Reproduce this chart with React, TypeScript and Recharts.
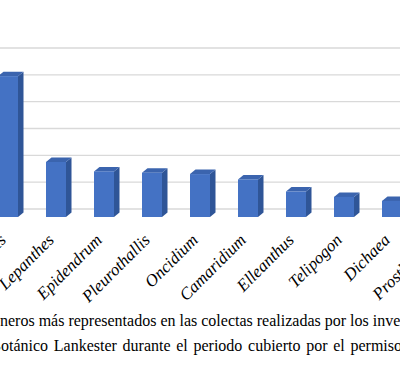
import { BarChart, Bar, XAxis, YAxis, CartesianGrid } from "recharts"

// géneros y número de registros
const generos = [
  "Stelis",
  "Lepanthes",
  "Epidendrum",
  "Pleurothallis",
  "Oncidium",
  "Camaridium",
  "Elleanthus",
  "Telipogon",
  "Dichaea",
  "Prosthechea",
]
const registros = [105, 41, 34, 33, 32, 28, 19, 15, 12, 10]
const yTicks = [0, 20, 40, 60, 80, 100, 120]

const chartData = generos.map((g, i) => ({ genero: g, registros: registros[i] }))

const SERIF = "Liberation Serif"
const FRONT = 8 // desplazamiento de la cara frontal respecto a la pared del fondo
const DX = 5.5
const DY = 4.5

function Bar3D(props: any) {
  const { x, y, width, height } = props
  const fy = y + FRONT
  const fb = fy + height
  return (
    <g>
      <polygon
        points={`${x + width},${fy} ${x + width + DX},${fy - DY} ${x + width + DX},${fb - DY} ${x + width},${fb}`}
        fill="#2f5597"
      />
      <polygon
        points={`${x},${fy} ${x + DX},${fy - DY} ${x + width + DX},${fy - DY} ${x + width},${fy}`}
        fill="#3b64ae"
      />
      <rect x={x} y={fy} width={width} height={height} fill="#4472c4" />
    </g>
  )
}

function GeneroTick(props: any) {
  const { x, y, payload } = props
  const tx = x - 1
  const ty = y + 24
  return (
    <text
      x={tx}
      y={ty}
      transform={`rotate(-45 ${tx} ${ty})`}
      textAnchor="end"
      style={{ fontFamily: SERIF, fontStyle: "italic", fontSize: 17 }}
      fill="#000"
    >
      {payload.value}
    </text>
  )
}

const captionStyle: React.CSSProperties = {
  position: "absolute",
  left: 0,
  whiteSpace: "nowrap",
  fontFamily: SERIF,
  fontSize: 16,
  color: "#000",
}

export default function App() {
  return (
    <div
      style={{
        position: "fixed",
        left: 0,
        top: 0,
        width: 400,
        height: 391,
        overflow: "hidden",
        background: "#fff",
      }}
    >
      <div style={{ position: "absolute", left: -70, top: 0 }}>
        <BarChart
          width={560}
          height={391}
          data={chartData}
          barSize={20}
          margin={{ top: 48, right: 26, left: 4, bottom: 0 }}
        >
          <CartesianGrid vertical={false} stroke="#d9d9d9" strokeWidth={1.4} />
          <XAxis
            dataKey="genero"
            axisLine={false}
            tickLine={false}
            interval={0}
            height={182}
            tick={<GeneroTick />}
          />
          <YAxis
            width={50}
            domain={[0, 120]}
            ticks={yTicks}
            axisLine={false}
            tickLine={false}
            tick={{ fontSize: 14, fill: "#595959" }}
          />
          <Bar dataKey="registros" shape={<Bar3D />} isAnimationActive={false} />
        </BarChart>
      </div>
      <div style={{ ...captionStyle, top: 312 }}>
        <span style={{ position: "absolute", right: "100%" }}>Figura 1. Gé</span>
        neros más representados en las colectas realizadas por los investigadores del
      </div>
      <div style={{ ...captionStyle, top: 337, left: 1, wordSpacing: 1.7 }}>
        <span style={{ position: "absolute", right: "100%" }}>Jardín B</span>
        otánico Lankester durante el periodo cubierto por el permiso de colecta
      </div>
    </div>
  )
}
